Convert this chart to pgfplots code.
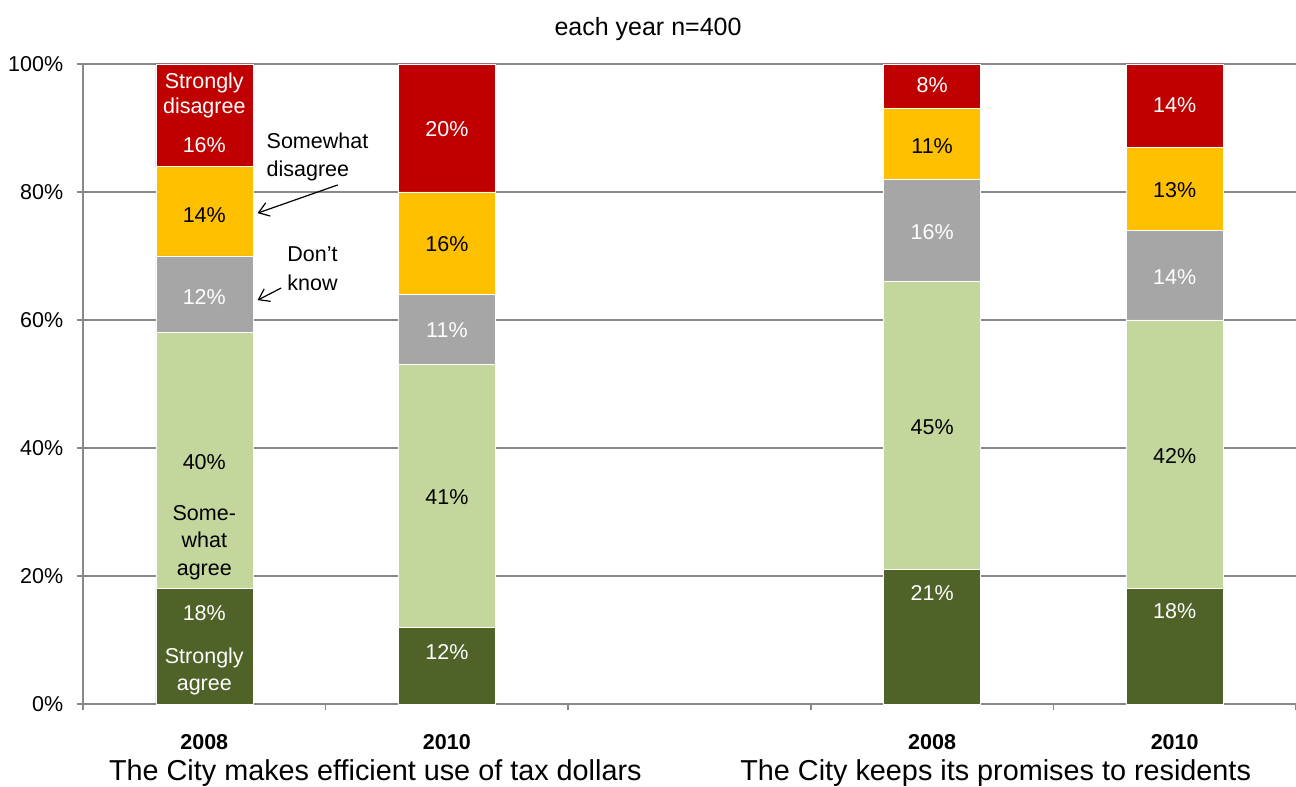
\documentclass[border=0pt]{standalone}
\usepackage{pgfplots}
\pgfplotsset{compat=1.18}
\usepackage{pgfplotstable}
\usepackage{fontspec}
\setmainfont{Liberation Sans}
\usetikzlibrary{arrows.meta}

\definecolor{dkgreen}{HTML}{4F6228}
\definecolor{ltgreen}{HTML}{C3D69B}
\definecolor{dkgray}{HTML}{A6A6A6}
\definecolor{amber}{HTML}{FFC000}
\definecolor{dkred}{HTML}{C00000}
\definecolor{axgray}{HTML}{898989}

\pgfplotstableread{
x SA SWA DK SWD SD
0 18 40 12 14 16
1 12 41 11 16 20
3 21 45 16 11 7
4 18 42 14 13 13
}\bars

\pgfplotstableread{
x y label
0 14.2 18
1 8.1 12
3 17.3 21
4 14.5 18
0 63.6 12
1 58.4 11
3 73.75 16
4 66.7 14
0 87.3 16
1 89.8 20
3 96.7 8
4 93.6 14
}\whitelabels

\pgfplotstableread{
x y label
0 37.8 40
1 32.3 41
3 43.3 45
4 38.75 42
0 76.4 14
1 71.9 16
3 87.1 11
4 80.3 13
}\blacklabels

\newcommand{\lbl}{\fontsize{10.75}{12.5}\selectfont}
\newcommand{\ann}{\fontsize{10.75}{13.75}\selectfont}

\begin{document}
\begin{tikzpicture}
\useasboundingbox (-41.5pt,-41.5pt) rectangle (606.5pt,352pt);
\begin{axis}[
  scale only axis,
  width=606.5pt, height=320pt,
  xmin=-0.5, xmax=4.5,
  ymin=0, ymax=100,
  ybar stacked,
  bar width=48.5pt,
  axis x line*=bottom,
  axis y line*=left,
  axis line style={axgray, line width=0.75pt},
  ymajorgrids,
  grid style={axgray, line width=0.75pt},
  ytick={0,20,40,60,80,100},
  yticklabels={0\%,20\%,40\%,60\%,80\%,100\%},
  xtick={0,1,3,4},
  xticklabels={\textbf{2008},\textbf{2010},\textbf{2008},\textbf{2010}},
  minor xtick={-0.5,0.5,1.5,2.5,3.5,4.5},
  every major x tick/.append style={draw=none},
  tick align=outside,
  major tick length=3pt,
  minor tick length=3pt,
  tick style={axgray, line width=0.75pt},
  yticklabel style={font=\lbl, xshift=-3.4pt},
  xticklabel style={font=\lbl, yshift=-8.5pt},
  clip=false,
]
\addplot[fill=dkgreen, draw=white, line width=0.3pt] table[x=x, y=SA] {\bars};
\addplot[fill=ltgreen, draw=white, line width=0.3pt] table[x=x, y=SWA] {\bars};
\addplot[fill=dkgray, draw=white, line width=0.3pt] table[x=x, y=DK] {\bars};
\addplot[fill=amber, draw=white, line width=0.3pt] table[x=x, y=SWD] {\bars};
\addplot[fill=dkred, draw=white, line width=0.3pt] table[x=x, y=SD] {\bars};
\end{axis}

\begin{axis}[
  scale only axis,
  width=606.5pt, height=320pt,
  xmin=-0.5, xmax=4.5,
  ymin=0, ymax=100,
  hide axis,
  clip=false,
]
\addplot[only marks, mark=none, nodes near coords={\pgfplotspointmeta\%}, point meta=explicit symbolic,
  every node near coord/.append style={anchor=center, font=\lbl, text=white}]
  table[x=x, y=y, meta=label] {\whitelabels};
\addplot[only marks, mark=none, nodes near coords={\pgfplotspointmeta\%}, point meta=explicit symbolic,
  every node near coord/.append style={anchor=center, font=\lbl, text=black}]
  table[x=x, y=y, meta=label] {\blacklabels};

\node[font=\fontsize{12.5}{15}\selectfont] at (rel axis cs:0.4658,1) [yshift=17.5pt] {each year n=400};
\node[font=\fontsize{14.4}{17}\selectfont] at (axis cs:0.705,0) [yshift=-34.5pt] {The City makes efficient use of tax dollars};
\node[font=\fontsize{14.4}{17}\selectfont] at (axis cs:3.262,0) [yshift=-34.5pt] {The City keeps its promises to residents};

\node[font=\lbl, text=white, align=center] at (axis cs:0,95.1) {Strongly\\disagree};
\node[font=\ann, align=center] at (axis cs:0,25.2) {Some-\\what\\agree};
\node[font=\ann, text=white, align=center] at (axis cs:0,5.1) {Strongly\\agree};

\node[font=\ann, align=left, anchor=west] at (axis cs:0.228,85.5) {Somewhat\\disagree};
\draw[-{Straight Barb[length=5pt,width=7pt]}, line width=0.6pt] (axis cs:0.550,81.1) -- (axis cs:0.2196,76.7);
\node[font=\fontsize{10.75}{14.25}\selectfont, align=center] at (axis cs:0.446,68.05) {Don’t\\know};
\draw[-{Straight Barb[length=5pt,width=7pt]}, line width=0.6pt] (axis cs:0.317,65.0) -- (axis cs:0.2196,63.1);
\end{axis}
\end{tikzpicture}
\end{document}
